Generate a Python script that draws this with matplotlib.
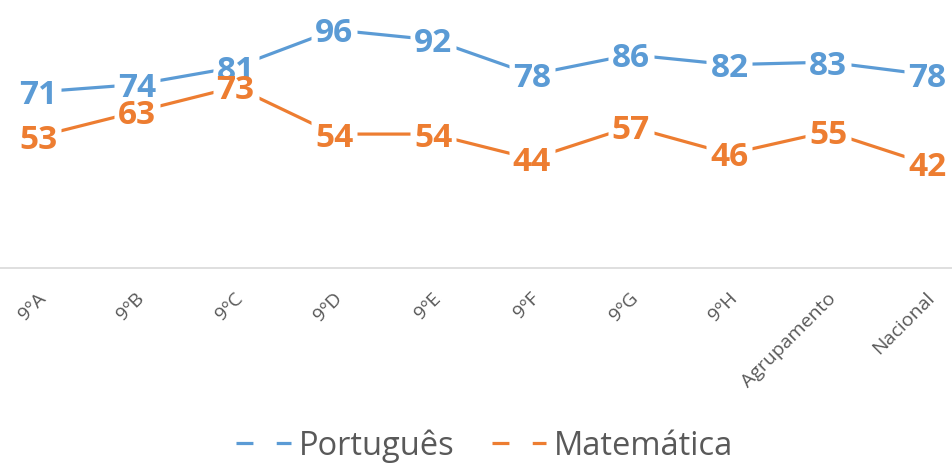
import matplotlib
matplotlib.use("Agg")
import matplotlib.pyplot as plt
from matplotlib.lines import Line2D
from matplotlib.transforms import ScaledTranslation

categories = ["9ºA", "9ºB", "9ºC", "9ºD", "9ºE", "9ºF", "9ºG", "9ºH",
              "Agrupamento", "Nacional"]
portugues = [71, 74, 81, 96, 92, 78, 86, 82, 83, 78]
matematica = [53, 63, 73, 54, 54, 44, 57, 46, 55, 42]

blue = "#5B9BD5"
orange = "#ED7D31"
grey_text = "#595959"

plt.rcParams["font.family"] = ["Open Sans", "DejaVu Sans"]

W, H = 952, 463
fig = plt.figure(figsize=(W / 100, H / 100), dpi=100)
# plot area is wider than the picture (cropped at both sides)
left_px, right_px = -11.4, 976.4
ax = fig.add_axes([left_px / W, (H - 268) / H,
                   (right_px - left_px) / W, 248 / H])

# white rectangle behind each label so the line stops short of it
label_box = [(-23, -16), (23, -16), (23, 16), (-23, 16)]

x = list(range(len(categories)))
for vals, col in [(portugues, blue), (matematica, orange)]:
    ax.plot(x, vals, color=col, lw=2.3, solid_capstyle="butt", zorder=2)
    ax.plot(x, vals, linestyle="none", marker=label_box, markersize=33,
            markerfacecolor="white", markeredgecolor="none", zorder=3,
            clip_on=False)
    for xi, v in zip(x, vals):
        ax.text(xi, v, str(v), ha="center", va="center_baseline",
                fontsize=24, fontweight="bold", color=col, zorder=4)

ax.set_xlim(-0.5, len(categories) - 0.5)
ax.set_ylim(0, 100)
ax.set_yticks([])
for s in ["top", "right", "left"]:
    ax.spines[s].set_visible(False)
ax.spines["bottom"].set_color("#D9D9D9")
ax.spines["bottom"].set_linewidth(1.2)
ax.spines["bottom"].set_clip_on(False)

ax.set_xticks(x)
ax.set_xticklabels(categories, rotation=45, ha="right", va="center",
                   rotation_mode="anchor", color=grey_text, fontsize=14)
ax.tick_params(axis="x", length=0, pad=20)
shift = ScaledTranslation(5 / 100, 0, fig.dpi_scale_trans)
for lbl in ax.get_xticklabels():
    lbl.set_transform(lbl.get_transform() + shift)

handles = [
    Line2D([], [], color=blue, lw=2.3, linestyle=(0, (5.3, 7.3))),
    Line2D([], [], color=orange, lw=2.3, linestyle=(0, (5.3, 7.3))),
]
fig.legend(handles, ["Português", "Matemática"], loc="center",
           bbox_to_anchor=(485 / W, (H - 446) / H), ncol=2, frameon=False,
           fontsize=23.5, labelcolor=grey_text, handlelength=1.66,
           handletextpad=0.25, columnspacing=1.15)

fig.savefig("out.png", dpi=100)
